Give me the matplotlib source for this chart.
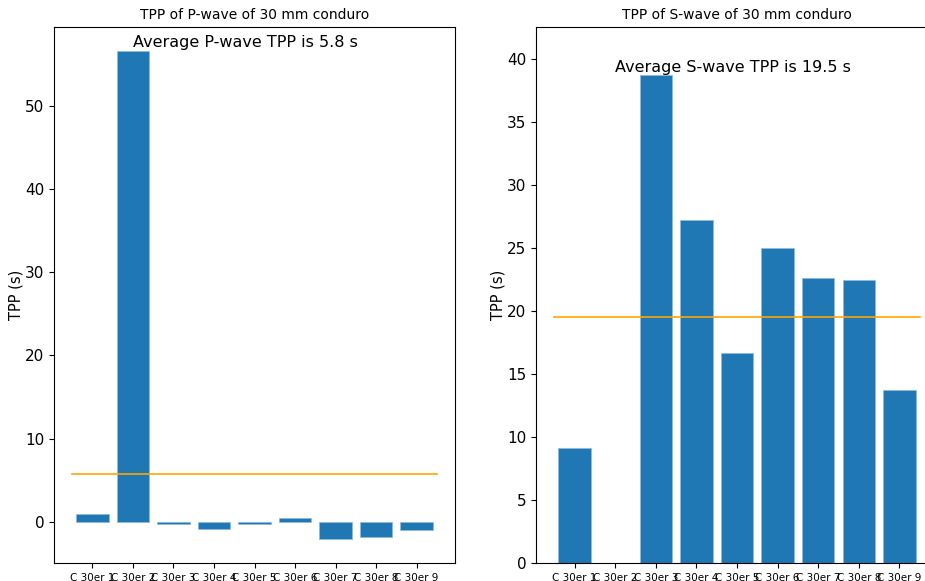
import matplotlib
matplotlib.use("Agg")
import matplotlib.pyplot as plt
import numpy as np

labels = ["C 30er 1", "C 30er 2", "C 30er 3", "C 30er 4", "C 30er 5",
          "C 30er 6", "C 30er 7", "C 30er 8", "C 30er 9"]
p_tpp = [1.0, 56.5, -0.3, -0.8, -0.3, 0.5, -2.0, -1.8, -1.0]
s_tpp = [9.15, 0.0, 38.7, 27.2, 16.7, 25.0, 22.6, 22.5, 13.7]

W, H = 925, 581
fig = plt.figure(figsize=(W / 100, H / 100), dpi=100)
ax1 = fig.add_axes([54 / W, 18 / H, 401 / W, 536 / H])
ax2 = fig.add_axes([536 / W, 18 / H, 402 / W, 536 / H])

x = np.arange(len(labels))
bar_kw = dict(width=0.8, color="#1f77b4", edgecolor="#8fbbdd", linewidth=0.6)

for ax, vals, wave, ty in [(ax1, p_tpp, "P", 57.0), (ax2, s_tpp, "S", 39.0)]:
    ax.bar(x, vals, **bar_kw)
    avg = float(np.mean(vals))
    ax.plot([-0.5, len(labels) - 0.5], [avg, avg], color="orange", linewidth=1.2)
    ax.text(1, ty, f"Average {wave}-wave TPP is {avg:.1f} s", fontsize=11.5)
    ax.set_title(f"TPP of {wave}-wave of 30 mm conduro", fontsize=10)
    ax.set_ylabel("TPP (s)", fontsize=10.5, labelpad=1)
    ax.set_xticks(x)
    ax.set_xticklabels(labels, fontsize=7.5)
    ax.tick_params(axis="y", labelsize=11)

ax2.set_ylim(0, 42.55)

fig.savefig("out.png", dpi=100)
